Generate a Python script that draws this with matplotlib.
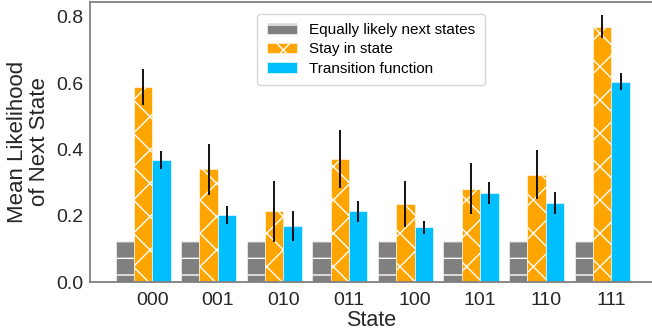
import numpy as np
import matplotlib
matplotlib.use("Agg")
import matplotlib.pyplot as plt

plt.rcParams['font.family'] = ['Liberation Sans', 'DejaVu Sans']
plt.rcParams['hatch.linewidth'] = 1.0

states = ["000", "001", "010", "011", "100", "101", "110", "111"]
uniform = [0.125] * 8
stay = [0.589, 0.340, 0.213, 0.371, 0.235, 0.281, 0.324, 0.770]
stay_err = [0.055, 0.077, 0.092, 0.087, 0.070, 0.077, 0.073, 0.035]
trans = [0.368, 0.202, 0.169, 0.213, 0.165, 0.269, 0.239, 0.605]
trans_err = [0.028, 0.027, 0.045, 0.031, 0.020, 0.034, 0.034, 0.025]

fig = plt.figure(figsize=(6.52, 3.35), dpi=100)
ax = fig.add_axes([0.138, 0.158, 0.862, 0.836])

x = np.arange(len(states))
w = 0.28
err_kw = dict(ecolor='black', elinewidth=1.3, capsize=0)

ax.bar(x - 1.5 * w, uniform, w, color='#808080', edgecolor='white',
       linewidth=0.4, hatch='-', label='Equally likely next states')
ax.bar(x - 0.5 * w, stay, w, yerr=stay_err, error_kw=err_kw, color='#FFA500',
       edgecolor='white', linewidth=0.4, hatch='x', label='Stay in state')
ax.bar(x + 0.5 * w, trans, w, yerr=trans_err, error_kw=err_kw, color='#00BFFF',
       edgecolor='white', linewidth=0.4, label='Transition function')

ax.set_xlim(-0.95, 7.62)
ax.set_ylim(0, 0.845)
ax.set_xticks(x)
ax.set_xticklabels(states)
ax.set_yticks([0.0, 0.2, 0.4, 0.6, 0.8])
ax.tick_params(axis='y', length=0, labelsize=14, colors='#262626', pad=5)
ax.tick_params(axis='x', length=0, labelsize=14, colors='#262626', pad=7)

for side in ['left', 'bottom', 'top']:
    ax.spines[side].set_color('#808080')
    ax.spines[side].set_linewidth(1.3)
ax.spines['right'].set_visible(False)

ax.set_xlabel('State', fontsize=15.5, color='#262626', labelpad=1)
ax.set_ylabel('Mean Likelihood\nof Next State', fontsize=16, color='#262626',
              labelpad=4, linespacing=1.05)

leg = ax.legend(loc='upper center', fontsize=11, frameon=True,
                bbox_to_anchor=(0.5, 0.985), labelspacing=0.35, borderpad=0.6)
leg.get_frame().set_edgecolor('#cccccc')

fig.savefig('out.png', dpi=100)
